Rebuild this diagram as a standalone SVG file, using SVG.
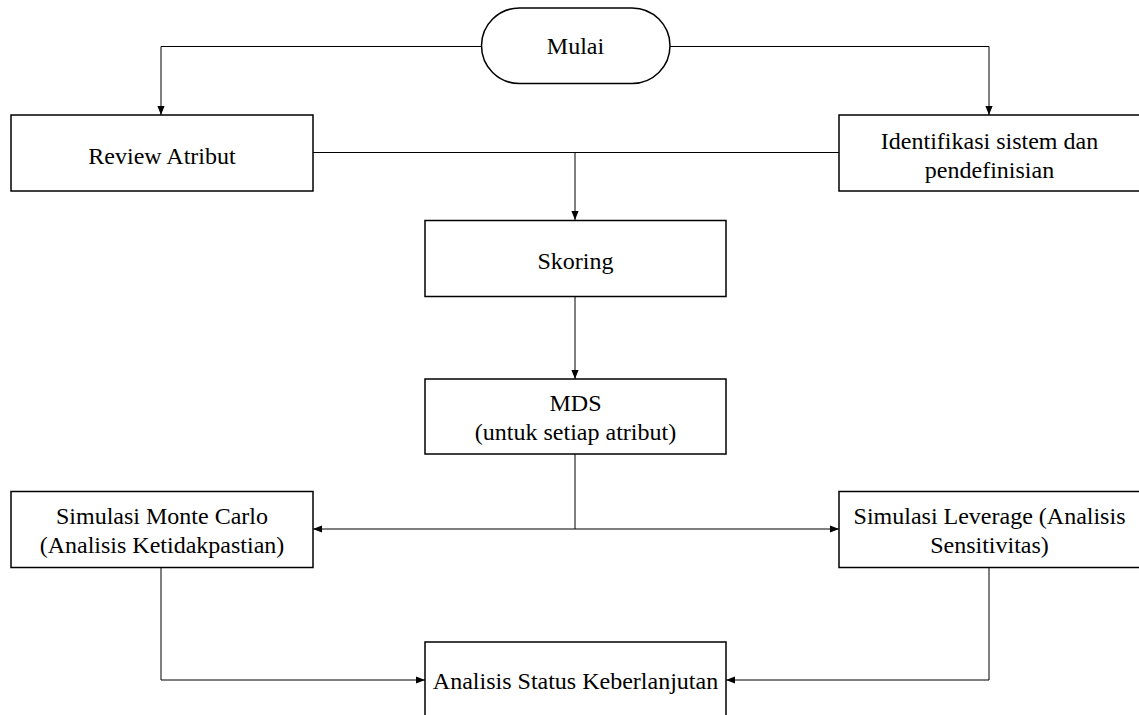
<svg xmlns="http://www.w3.org/2000/svg" width="1139" height="715" viewBox="0 0 1139 715">
<style>
.box{fill:#fff;stroke:#000;stroke-width:1.5}
.lbl{font-family:"Liberation Serif","Times New Roman",serif;font-size:24px;fill:#000;text-anchor:middle;dominant-baseline:central}
.con{fill:none;stroke:#000;stroke-width:1}
</style>
<defs>
<marker id="ah" viewBox="0 0 10 10" refX="10" refY="5" markerWidth="9" markerHeight="9" markerUnits="userSpaceOnUse" orient="auto">
<path d="M0,1 L10,5 L0,9 Z" fill="#000"/>
</marker>
</defs>
<rect width="1139" height="715" fill="#fff"/>
<g id="connectors">
<path class="con" d="M481,46.5 H161 V115" marker-end="url(#ah)"/>
<path class="con" d="M670,46.5 H989 V115" marker-end="url(#ah)"/>
<path class="con" d="M313,152.5 H839"/>
<path class="con" d="M575,152.5 V220" marker-end="url(#ah)"/>
<path class="con" d="M575,297 V379" marker-end="url(#ah)"/>
<path class="con" d="M575,454 V529"/>
<path class="con" d="M575,529 H313" marker-end="url(#ah)"/>
<path class="con" d="M575,529 H839" marker-end="url(#ah)"/>
<path class="con" d="M161,567 V680 H425" marker-end="url(#ah)"/>
<path class="con" d="M989,567 V680 H726" marker-end="url(#ah)"/>
</g>
<g id="mulai">
<rect class="box" x="481.5" y="8" width="188.5" height="75.5" rx="38" ry="37.75"/>
<text class="lbl" x="575.5" y="46">Mulai</text>
</g>
<g id="review">
<rect class="box" x="11" y="115" width="302" height="76"/>
<text class="lbl" x="162" y="156">Review Atribut</text>
</g>
<g id="identifikasi">
<rect class="box" x="839" y="115" width="302" height="76"/>
<text class="lbl" x="989.5" y="141">Identifikasi sistem dan</text>
<text class="lbl" x="989.5" y="170">pendefinisian</text>
</g>
<g id="skoring">
<rect class="box" x="425" y="220.5" width="301" height="76"/>
<text class="lbl" x="575.5" y="261">Skoring</text>
</g>
<g id="mds">
<rect class="box" x="425" y="379" width="301" height="75"/>
<text class="lbl" x="575.5" y="403">MDS</text>
<text class="lbl" x="575.5" y="432">(untuk setiap atribut)</text>
</g>
<g id="montecarlo">
<rect class="box" x="11" y="491.5" width="302" height="76"/>
<text class="lbl" x="162" y="516">Simulasi Monte Carlo</text>
<text class="lbl" x="162" y="545">(Analisis Ketidakpastian)</text>
</g>
<g id="leverage">
<rect class="box" x="839" y="491.5" width="302" height="76"/>
<text class="lbl" x="989.5" y="516">Simulasi Leverage (Analisis</text>
<text class="lbl" x="989.5" y="545">Sensitivitas)</text>
</g>
<g id="analisis">
<rect class="box" x="425" y="642" width="301" height="80"/>
<text class="lbl" x="575.5" y="681">Analisis Status Keberlanjutan</text>
</g>
</svg>
